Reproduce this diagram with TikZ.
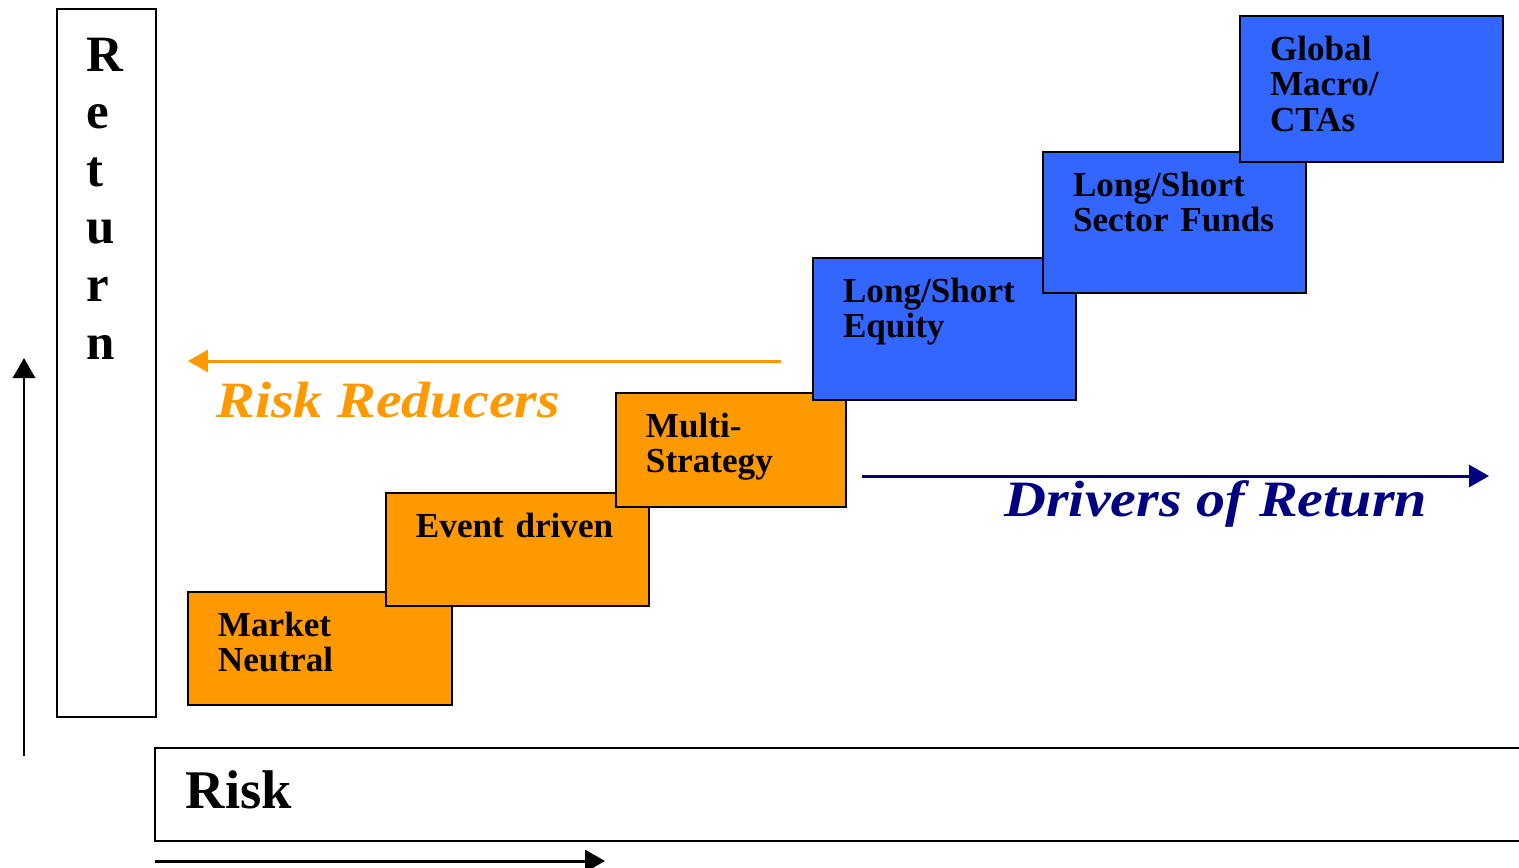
\documentclass[tikz,border=0pt]{standalone}
\usepackage{fontspec}
\setmainfont{Liberation Serif}
\newfontfamily\stretchfont[FakeStretch=1.14]{Liberation Serif}
\usetikzlibrary{arrows.meta}

\definecolor{reducer}{HTML}{FF9900}
\definecolor{driver}{HTML}{3366FF}
\definecolor{navyline}{HTML}{000080}

\tikzset{
    stepbox/.style={draw=black, line width=1.3pt, anchor=north west, outer sep=0pt,
        inner xsep=0.6cm, inner ysep=0pt, text height=0.88cm, align=left,
        font=\fontsize{20}{20.4}\selectfont\bfseries},
    axisbox/.style={draw=black, line width=1.1pt, anchor=north west, outer sep=0pt},
    axisarrow/.style={line width=1.7pt, -{Triangle[length=0.4cm, width=0.44cm]}},
    slogan/.style={anchor=base west, inner sep=0pt,
        font=\fontsize{29}{29}\selectfont\stretchfont\bfseries\itshape}
}

\begin{document}
\begin{tikzpicture}[x=0.02cm, y=-0.02cm]
    \useasboundingbox (0,0) rectangle (1519,867);

    % Axis boxes
    \node[axisbox, minimum width=1.98cm, minimum height=14.16cm] (retbox) at (57,9) {};
    \node[axisbox, inner xsep=0.62cm, inner ysep=0pt, text width=27cm, text height=1.2cm,
        text depth=0.66cm, align=left, font=\fontsize{31}{31}\selectfont\bfseries] (riskbox) at (155,748) {Risk};

    % Vertical letters of Return
    \foreach \l [count=\i] in {R,e,t,u,r,n} {
        \pgfmathsetmacro{\by}{71 + (\i-1)*57.6}
        \node[anchor=base west, inner sep=0pt, font=\fontsize{29}{29}\selectfont\bfseries] (ret\i) at (86,\by) {\l};
    }

    % Axis arrows
    \coordinate (upTail) at (24,756);
    \coordinate (upTip) at (24,358);
    \coordinate (rightTail) at (155,861);
    \coordinate (rightTip) at (605,861);
    \draw[axisarrow] (upTail) -- (upTip);
    \draw[axisarrow] (rightTail) -- (rightTip);

    % Strategy steps, each one drawn over the one before
    \foreach \nm/\x/\y/\w/\h/\col/\txt in {
            mn/188/592/264/113/reducer/{Market\\Neutral},
            ed/386/493/263/113/reducer/{Event driven},
            ms/616/393/230/114/reducer/{Multi-\\Strategy},
            lse/813/258/263/142/driver/{Long/Short\\Equity},
            lss/1043/152/263/141/driver/{Long/Short\\Sector Funds},
            gm/1240/16/263/146/driver/{Global\\Macro/\\CTAs}} {
        \pgfmathsetmacro{\tw}{(\w-60)*0.02}
        \pgfmathsetmacro{\td}{(\h-44)*0.02}
        \node[stepbox, fill=\col, text width=\tw cm, text depth=\td cm] (\nm) at (\x,\y) {\txt};
    }

    % Risk reducers and drivers of return
    \coordinate (redTail) at (781,361);
    \coordinate (redTip) at (188,361);
    \draw[axisarrow, reducer] (redTail) -- (redTip);
    \node[slogan, text=reducer] (reducers) at (216,417) {Risk Reducers};

    \coordinate (drvTail) at (862,476);
    \coordinate (drvTip) at (1489,476);
    \draw[axisarrow, navyline] (drvTail) -- (drvTip);
    \node[slogan, text=navyline] (drivers) at (1004,516) {Drivers of Return};
\end{tikzpicture}
\end{document}
